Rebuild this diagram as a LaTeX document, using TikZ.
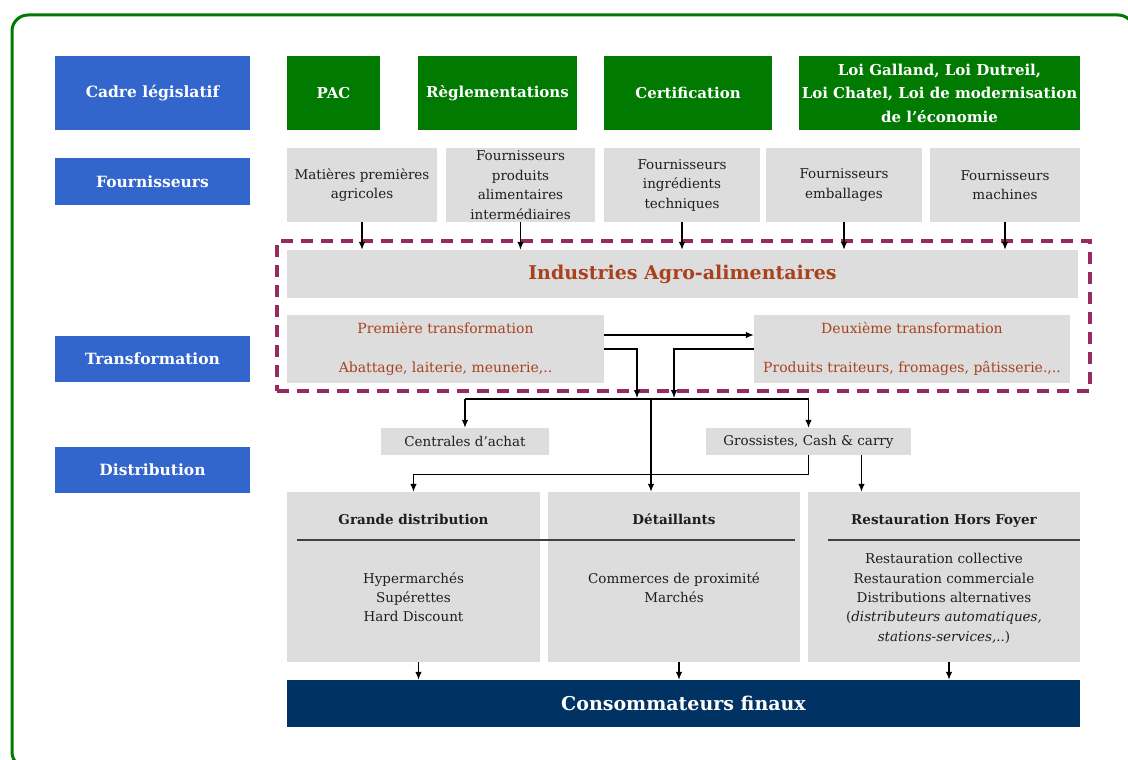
\documentclass[tikz,border=0pt]{standalone}
\usepackage{fontspec}
\setmainfont{DejaVu Serif}
\usepackage{tikz}
\usetikzlibrary{arrows.meta}

\definecolor{bleu}{RGB}{50,102,204}
\definecolor{vert}{RGB}{0,122,0}
\definecolor{gris}{RGB}{221,221,221}
\definecolor{violet}{RGB}{152,42,98}
\definecolor{brun}{RGB}{168,66,30}
\definecolor{marine}{RGB}{0,50,100}
\definecolor{encre}{RGB}{30,30,30}

\begin{document}
\begin{tikzpicture}[x=1pt,y=-1pt,
  ebene/.style={fill=bleu,text=white,inner sep=0pt,minimum width=195pt,
    font=\fontsize{15.5}{18}\selectfont\bfseries},
  gesetz/.style={fill=vert,text=white,inner sep=0pt,minimum height=74pt,align=center,
    font=\fontsize{15}{23.5}\selectfont\bfseries},
  grau/.style={fill=gris,text=encre,inner sep=0pt,align=center,
    font=\fontsize{13.5}{19.5}\selectfont},
  braun/.style={fill=gris,text=brun,inner sep=0pt,align=center,
    font=\fontsize{14}{19.5}\selectfont},
  txt/.style={text=encre,inner sep=0pt,align=center,font=\fontsize{13.5}{19.3}\selectfont},
  titel/.style={text=encre,inner sep=0pt,font=\fontsize{13.5}{16}\selectfont\bfseries},
  pfeil/.style={-{Latex[length=8pt,width=6.5pt]},line width=1.2pt,black},
  trenn/.style={line width=2pt,black!75}]
  \useasboundingbox (0,0) rectangle (1128,760);
  \clip (0,0) rectangle (1128,760);

  % Rahmen
  \draw[vert,line width=3pt,rounded corners=16pt] (12,15) rectangle (1134,768);

  % Ebenen links
  \node[ebene,minimum height=74pt] (cadre) at (152.5,93) {Cadre législatif};
  \node[ebene,minimum height=47pt] (four) at (152.5,181.5) {Fournisseurs};
  \node[ebene,minimum height=46pt] (transf) at (152.5,359) {Transformation};
  \node[ebene,minimum height=46pt] (distrib) at (152.5,470) {Distribution};

  % Gesetzlicher Rahmen
  \node[gesetz,minimum width=93pt] (pac) at (333.5,93) {PAC};
  \node[gesetz,minimum width=159pt] (regl) at (497.5,93) {Règlementations};
  \node[gesetz,minimum width=168pt] (certif) at (688,93) {Certification};
  \node[gesetz,minimum width=281pt] (loi) at (939.5,93)
    {Loi Galland, Loi Dutreil,\\Loi Chatel, Loi de modernisation\\de l’économie};

  % Lieferanten
  \node[grau,minimum width=150pt,minimum height=74pt] (mat) at (362,185)
    {Matières premières\\agricoles};
  \node[grau,minimum width=149pt,minimum height=74pt] (prod) at (520.5,185)
    {Fournisseurs\\produits\\alimentaires\\intermédiaires};
  \node[grau,minimum width=156pt,minimum height=74pt] (ingr) at (682,185)
    {Fournisseurs\\ingrédients\\techniques};
  \node[grau,minimum width=156pt,minimum height=74pt] (emb) at (844,185)
    {Fournisseurs\\emballages};
  \node[grau,minimum width=150pt,minimum height=74pt] (mach) at (1005,185)
    {Fournisseurs\\machines};

  % Industrie
  \node[draw=violet,line width=4pt,dash pattern=on 12pt off 8pt,
    minimum width=813pt,minimum height=150pt,inner sep=0pt] (iaabox) at (683.5,316) {};
  \node[braun,minimum width=791pt,minimum height=48pt,
    font=\fontsize{19}{22}\selectfont\bfseries] (iaa) at (682.5,274)
    {Industries Agro-alimentaires};
  \node[braun,minimum width=317pt,minimum height=68pt] (t1) at (445.5,349)
    {Première transformation\\[19.5pt]Abattage, laiterie, meunerie,..};
  \node[braun,minimum width=316pt,minimum height=68pt] (t2) at (912,349)
    {Deuxième transformation\\[19.5pt]Produits traiteurs, fromages, pâtisserie.,..};

  % Grosshandel
  \node[grau,minimum width=168pt,minimum height=27pt] (cen) at (465,441.5) {Centrales d’achat};
  \node[grau,minimum width=205pt,minimum height=27pt] (gro) at (808.5,441.5) {Grossistes, Cash \& carry};

  % Vertrieb
  \node[fill=gris,minimum width=253pt,minimum height=170pt,inner sep=0pt] (gd) at (413.5,577) {};
  \node[fill=gris,minimum width=252pt,minimum height=170pt,inner sep=0pt] (det) at (674,577) {};
  \node[fill=gris,minimum width=272pt,minimum height=170pt,inner sep=0pt] (rhf) at (944,577) {};
  \node[titel] (gdtitel) at (413.5,519) {Grande distribution};
  \node[titel] (dettitel) at (674,519) {Détaillants};
  \node[titel] (rhftitel) at (944,521) {Restauration Hors Foyer};
  \draw[trenn] (297,540) -- (795,540);
  \draw[trenn] (828,540) -- (1080,540);
  \node[txt] (gdliste) at (413.5,597) {Hypermarchés\\Supérettes\\Hard Discount};
  \node[txt] (detliste) at (674,587.5) {Commerces de proximité\\Marchés};
  \node[txt] (rhfliste) at (944,598.5) {Restauration collective\\Restauration commerciale\\
    Distributions alternatives\\(\textit{distributeurs automatiques,}\\\textit{stations-services,..})};

  % Verbraucher
  \node[fill=marine,text=white,minimum width=793pt,minimum height=47pt,inner sep=0pt,
    font=\fontsize{19}{22}\selectfont\bfseries] (cons) at (683.5,703.5) {Consommateurs finaux};

  % Pfeile
  \foreach \n in {mat,prod,ingr,emb,mach} {
    \draw[pfeil] (\n.south) -- (\n.south |- iaa.north);
  }
  \draw[pfeil] ([yshift=14pt]t1.east) -- ([yshift=14pt]t1.east -| t2.west);
  \coordinate (m1) at (637,398);
  \coordinate (m2) at (674,398);
  \coordinate (split) at (651,399);
  \draw[pfeil] (t1.east) -| (m1);
  \draw[pfeil] (t2.west) -| (m2);
  \draw[line width=1.2pt] (split -| cen.north) -- (split -| gro.north);
  \draw[pfeil] (split -| cen.north) -- (cen.north);
  \draw[pfeil] (split -| gro.north) -- (gro.north);
  \draw[pfeil] (split) -- (split |- det.north);
  \draw[pfeil] (gro.south) -- ++(0,19) -| (gd.north);
  \draw[pfeil] ([xshift=53pt]gro.south) -- ([xshift=53pt]gro.south |- rhf.north);
  \foreach \n in {gd,det,rhf} {
    \draw[pfeil] ([xshift=5pt]\n.south) -- ([xshift=5pt]\n.south |- cons.north);
  }

\end{tikzpicture}
\end{document}
